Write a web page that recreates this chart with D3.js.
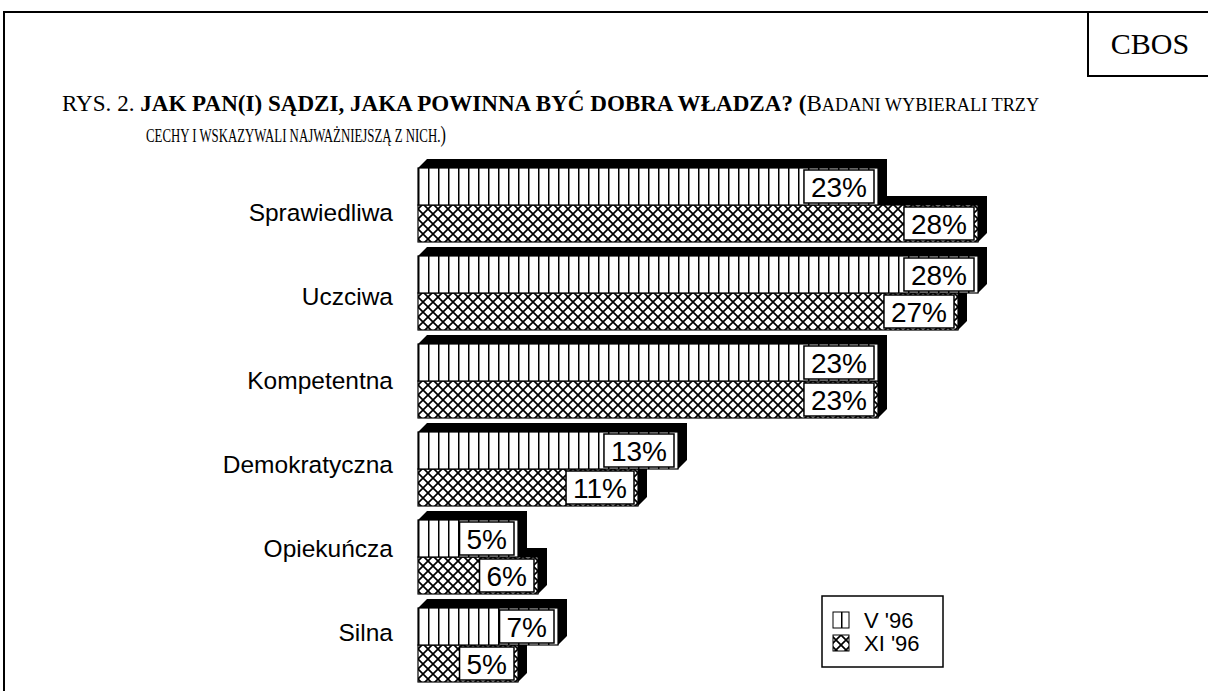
<!DOCTYPE html>
<html>
<head>
<meta charset="utf-8">
<script src="https://cdn.jsdelivr.net/npm/d3@7"></script>
<style>
  body { margin: 0; background: #fff; }
  svg { display: block; }
</style>
</head>
<body>
<div id="chart"></div>
<script>
var svgWidth = 1208;
var svgHeight = 691;

// data
var categories = ["Sprawiedliwa", "Uczciwa", "Kompetentna", "Demokratyczna", "Opiekuńcza", "Silna"];
var seriesNames = ["V '96", "XI '96"];
var valuesV96 = [23, 28, 23, 13, 5, 7];
var valuesXI96 = [28, 27, 23, 11, 6, 5];

var depth = 9; // 3d offset of the bars

var svg = d3.select("#chart")
  .append("svg")
  .attr("width", svgWidth)
  .attr("height", svgHeight);

var defs = svg.append("defs");

// vertical lines for V '96
var pv = defs.append("pattern")
  .attr("id", "pat-v")
  .attr("patternUnits", "userSpaceOnUse")
  .attr("x", 418)
  .attr("y", 0)
  .attr("width", 10)
  .attr("height", 10);
pv.append("rect").attr("width", 10).attr("height", 10).attr("fill", "#fff");
pv.append("line")
  .attr("x1", 0.75).attr("x2", 0.75).attr("y1", 0).attr("y2", 10)
  .attr("stroke", "#000").attr("stroke-width", 1.5);

// cross hatch for XI '96
var px = defs.append("pattern")
  .attr("id", "pat-x")
  .attr("patternUnits", "userSpaceOnUse")
  .attr("x", 418)
  .attr("y", 0)
  .attr("width", 10)
  .attr("height", 10);
px.append("rect").attr("width", 10).attr("height", 10).attr("fill", "#fff");
px.append("path")
  .attr("d", "M-1,-1L11,11M11,-1L-1,11")
  .attr("stroke", "#000").attr("stroke-width", 1.7);

var fills = ["url(#pat-v)", "url(#pat-x)"];

// outer frame and CBOS box
svg.append("rect")
  .attr("x", 4).attr("y", 12)
  .attr("width", 1230).attr("height", 700)
  .attr("fill", "none").attr("stroke", "#000").attr("stroke-width", 2);

svg.append("rect")
  .attr("x", 1088).attr("y", 12)
  .attr("width", 140).attr("height", 64)
  .attr("fill", "none").attr("stroke", "#000").attr("stroke-width", 2);

svg.append("text")
  .attr("x", 1150).attr("y", 54)
  .attr("text-anchor", "middle")
  .style("font-family", "'Liberation Serif', 'Times New Roman', serif")
  .style("font-size", "30px")
  .text("CBOS");

// title, two lines of condensed serif: drawn at natural width then squeezed
var titleFont = "'Liberation Serif', 'Times New Roman', serif";

function titleLine(x0, y0, targetWidth, parts) {
  var g = svg.append("g");
  var t = g.append("text")
    .attr("x", 0).attr("y", 0)
    .style("font-family", titleFont)
    .style("font-size", "24px");
  parts.forEach(function(p) {
    var s = t.append("tspan").text(p.text);
    if (p.bold) s.style("font-weight", "bold");
    if (p.small) s.style("font-size", "19px");
  });
  var w = t.node().getBBox().width;
  g.attr("transform", `translate(${x0}, ${y0}) scale(${targetWidth / w}, 1)`);
}

titleLine(62, 111, 978, [
  { text: "RYS.  2. " },
  { text: "JAK PAN(I) SĄDZI, JAKA POWINNA BYĆ DOBRA WŁADZA? (", bold: true },
  { text: "B" },
  { text: "ADANI WYBIERALI TRZY", small: true }
]);

titleLine(146, 142, 300, [
  { text: "CECHY I WSKAZYWALI NAJWAŻNIEJSZĄ Z NICH.", small: true },
  { text: ")" }
]);

// scales
var x = d3.scaleLinear()
  .domain([0, 30])
  .range([418, 1018]);

var y = d3.scaleBand()
  .domain(categories)
  .range([159, 682])
  .paddingInner(5 / 88)
  .paddingOuter(0);

var ySeries = d3.scaleBand()
  .domain(seriesNames)
  .range([depth, y.bandwidth()]);

var labelY = d3.scalePoint()
  .domain(categories)
  .range([212, 632]);

var data = categories.map(function(c, i) {
  return { cat: c, values: [
    { name: seriesNames[0], value: valuesV96[i], s: 0 },
    { name: seriesNames[1], value: valuesXI96[i], s: 1 }
  ]};
});

// category labels
svg.append("g")
  .selectAll("text")
  .data(categories)
  .enter()
  .append("text")
  .attr("x", 393)
  .attr("y", d => labelY(d))
  .attr("dy", "0.35em")
  .attr("text-anchor", "end")
  .style("font-family", "'Liberation Sans', Arial, sans-serif")
  .style("font-size", "24.5px")
  .text(d => d);

function shadowPath(x0, x1, y0, y1) {
  return "M" + x0 + "," + y0 +
    "L" + (x0 + depth) + "," + (y0 - depth) +
    "L" + (x1 + depth) + "," + (y0 - depth) +
    "L" + (x1 + depth) + "," + (y1 - depth) +
    "L" + x1 + "," + y1 +
    "L" + x1 + "," + y0 + "Z";
}

var groups = svg.append("g")
  .selectAll("g")
  .data(data)
  .enter()
  .append("g")
  .attr("transform", d => `translate(0, ${y(d.cat)})`);

// XI '96 drawn first so the V '96 bar sits on top of its shadow
var bars = groups.selectAll("g.bar")
  .data(d => d.values.slice().reverse())
  .enter()
  .append("g")
  .attr("class", "bar");

bars.append("path")
  .attr("d", d => shadowPath(x(0), x(d.value), ySeries(d.name), ySeries(d.name) + ySeries.bandwidth()))
  .attr("fill", "#000");

bars.append("rect")
  .attr("x", x(0))
  .attr("y", d => ySeries(d.name))
  .attr("width", d => x(d.value) - x(0))
  .attr("height", ySeries.bandwidth())
  .attr("fill", d => fills[d.s])
  .attr("stroke", "#000")
  .attr("stroke-width", 1.2);

// value boxes
var labelFont = "'Liberation Sans', Arial, sans-serif";
bars.each(function(d) {
  var g = d3.select(this);
  var top = ySeries(d.name);
  var h = ySeries.bandwidth();
  var t = g.append("text")
    .style("font-family", labelFont)
    .style("font-size", "28px")
    .attr("text-anchor", "middle")
    .text(d.value + "%");
  var w = t.node().getComputedTextLength() + 14;
  var bx = x(d.value) - 4 - w;
  g.insert("rect", "text")
    .attr("x", bx)
    .attr("y", top + 2)
    .attr("width", w)
    .attr("height", h - 4)
    .attr("fill", "#fff")
    .attr("stroke", "#000")
    .attr("stroke-width", 1.5);
  t.attr("x", bx + w / 2)
    .attr("y", top + h / 2 + 10);
});

// legend
var legend = svg.append("g")
  .attr("transform", "translate(822, 596)");

legend.append("rect")
  .attr("width", 121)
  .attr("height", 71)
  .attr("fill", "#fff")
  .attr("stroke", "#000")
  .attr("stroke-width", 1.5);

var legendItems = legend.selectAll("g")
  .data(seriesNames)
  .enter()
  .append("g")
  .attr("transform", (d, i) => `translate(11, ${16 + i * 23})`);

legendItems.append("rect")
  .attr("width", 16)
  .attr("height", 16)
  .attr("fill", (d, i) => fills[i])
  .attr("stroke", "#000")
  .attr("stroke-width", 1);

legendItems.append("text")
  .attr("x", 31)
  .attr("y", 8)
  .attr("dy", "0.35em")
  .style("font-family", labelFont)
  .style("font-size", "22px")
  .text(d => d);
</script>
</body>
</html>
